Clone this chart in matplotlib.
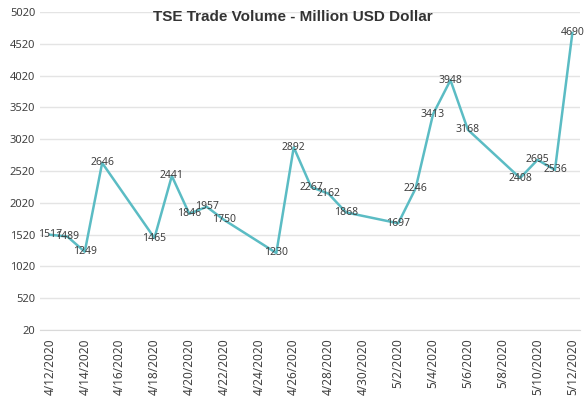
import datetime as dt
import matplotlib
matplotlib.use("Agg")
import matplotlib.pyplot as plt

dates = ["2020-04-12", "2020-04-13", "2020-04-14", "2020-04-15", "2020-04-18",
         "2020-04-19", "2020-04-20", "2020-04-21", "2020-04-22", "2020-04-25",
         "2020-04-26", "2020-04-27", "2020-04-28", "2020-04-29", "2020-05-02",
         "2020-05-03", "2020-05-04", "2020-05-05", "2020-05-06", "2020-05-09",
         "2020-05-10", "2020-05-11", "2020-05-12"]
volume = [1517, 1489, 1249, 2646, 1465, 2441, 1846, 1957, 1750, 1230,
          2892, 2267, 2162, 1868, 1697, 2246, 3413, 3948, 3168, 2408,
          2695, 2536, 4690]
yticks = list(range(20, 5021, 500))
title = "TSE Trade Volume - Million USD Dollar"

days = [dt.datetime.strptime(d, "%Y-%m-%d") for d in dates]
xticks = [days[0] + dt.timedelta(days=k) for k in range(0, (days[-1] - days[0]).days + 1, 2)]

fig = plt.figure(figsize=(5.84, 3.98), dpi=100)
ax = fig.add_axes([0.0685, 0.171, 0.925, 0.799])

ax.plot(days, volume, color="#5bbcc4", linewidth=1.8, zorder=3)
for d, v in zip(days, volume):
    ax.text(d, v, str(v), ha="center", va="center", fontsize=7.5,
            color="#404040", family="Noto Sans", zorder=4)

ax.set_ylim(20, 5020)
ax.set_yticks(yticks)
ax.set_xlim(days[0] - dt.timedelta(days=0.57), days[-1] + dt.timedelta(days=0.45))
ax.set_xticks(xticks)
ax.set_xticklabels(["{d.month}/{d.day}/{d.year}".format(d=d) for d in xticks])

ax.grid(axis="y", color="#e4e4e4", linewidth=1)
ax.set_axisbelow(True)
for s in ["top", "right", "left"]:
    ax.spines[s].set_visible(False)
ax.spines["bottom"].set_color("#d9d9d9")
ax.tick_params(length=0, colors="#404040", labelsize=8)
ax.tick_params(axis="x", rotation=90, pad=6, labelsize=8.5)
for lab in ax.get_xticklabels() + ax.get_yticklabels():
    lab.set_family("Noto Sans")

fig.text(293 / 584, 1 - 17 / 398, title, ha="center", va="center",
         fontsize=11, fontweight="bold", color="#333333", family="Liberation Sans")

fig.savefig("out.png", dpi=100)
